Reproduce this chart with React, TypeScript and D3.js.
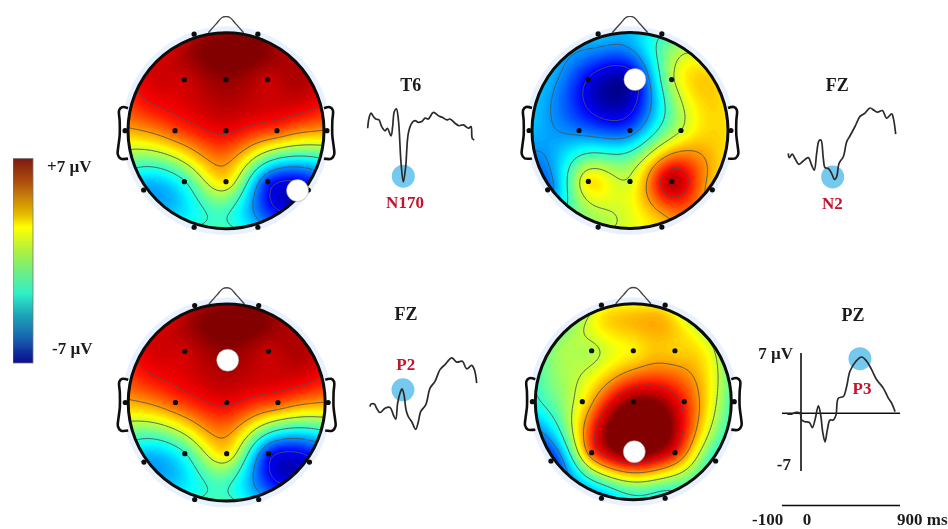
import React, { useMemo } from "react";
import * as d3 from "d3";

// 10-20 montage, head coordinates (radius 1, y down)
const sensorNames = ["Fp1", "Fp2", "F7", "F3", "Fz", "F4", "F8", "T3", "C3", "Cz", "C4", "T4", "T5", "P3", "Pz", "P4", "T6", "O1", "O2"];
const sensorX = [-0.325, 0.325, -0.84, -0.425, 0, 0.425, 0.84, -1.03, -0.52, 0, 0.52, 1.03, -0.84, -0.425, 0, 0.425, 0.84, -0.325, 0.325];
const sensorY = [-0.985, -0.985, -0.605, -0.52, -0.52, -0.52, -0.605, 0, 0, 0, 0, 0, 0.605, 0.52, 0.52, 0.52, 0.605, 0.985, 0.985];
const undrawnSensors = ["F7", "F8"];

// potentials per sensor (µV), same order as sensorNames
const n170Values = [6, 6.6, 5.5, 5.9, 6.7, 6, 6.1, 2.8, 4.2, 5.4, 4.2, 3, -2.9, -1.2, 2, -4.5, -5.6, -1.1, -2.5];
const n2Values = [-2.6, -1.2, -2.6, -5.4, -6.2, 0.7, 2, -2.6, -3.6, -3.9, 1, 2, -3.8, 2, 1.2, 6.3, 2.4, 0.6, 2.4];
const p2Values = [6, 6.6, 5.5, 5.9, 6.7, 6, 6.1, 2.8, 4.2, 5.4, 4.2, 3, -2.9, -1.2, 2, -4.7, -5.6, -1.1, -2.5];
const p3Values = [1.1, 1.4, -0.3, 0.7, 1.9, 2.4, 0.4, -1.6, 1.8, 7, 4.8, -1.1, -5, 4, 7.5, 5, -1.4, -2.8, -1.7];

const contourLevels = [-5.3, -3.2, -1.1, 1, 3.1, 5.2];
const jetStops = ["#00007f", "#0000ff", "#00ffff", "#7fff7f", "#ffff00", "#ff0000", "#7f0000"];
const jetOffsets = [0, 0.125, 0.375, 0.5, 0.625, 0.875, 1];

const barColors = ["#7e1a12", "#b05010", "#e8c000", "#ffff00", "#b0f040", "#70ee80", "#30f0c8", "#1fa8b8", "#1868b0", "#0a0a90"];
const barOffsets = [0, 0.12, 0.28, 0.335, 0.45, 0.55, 0.66, 0.76, 0.87, 1];

// ERP traces: ms and µV
const t6Times = [-100, -88, -69, -47, -25, 6, 31, 63, 84, 119, 134, 150, 169, 188, 213, 234, 256, 281, 313, 344, 375, 406, 438, 469, 516, 563, 600, 641, 672, 719, 756, 797, 844, 869, 881, 900];
const t6Volts = [0.6, 1.8, 2.4, 2, 1.7, 1.6, 0.8, 0.3, 0.6, -0.3, 0.8, 2.6, 2.9, 1.6, -3.6, -5.8, -4, 0, 1.2, 1.5, 1.3, 1.4, 1.8, 1.7, 2.5, 2.1, 1.9, 1.6, 1.7, 1.2, 0.9, 1, 0.6, 0.8, -0.6, -0.8];
const fzTopTimes = [-100, -91, -63, -38, -1, 40, 86, 117, 142, 164, 186, 204, 226, 242, 273, 304, 329, 350, 372, 412, 444, 475, 521, 568, 614, 661, 701, 732, 776, 816, 863, 878, 900];
const fzTopVolts = [-1.2, -1.7, -1.3, -1.8, -2.5, -2.1, -1.7, -2.6, -3.2, -1.2, 0.3, 0.4, -1.8, -2.9, -3, -3.6, -4.3, -4, -2.4, -1.6, 0.2, 0.9, 2, 3.2, 3.6, 4.2, 3.9, 3.7, 3.9, 3, 3.5, 3, 1.1];
const fzLowTimes = [-100, -91, -59, -38, -6, 41, 88, 119, 141, 159, 181, 200, 219, 238, 259, 291, 328, 353, 375, 422, 463, 509, 556, 603, 666, 713, 766, 806, 853, 878, 900];
const fzLowVolts = [-1.5, -1.2, -1.2, -1.7, -2.2, -1.7, -1.6, -2.5, -3, -1.1, 0.1, 0.6, -0.1, -1.9, -2.7, -3.3, -4.2, -3.3, -2.1, -1.3, 0.7, 1.5, 2.9, 3.5, 4.3, 3.8, 3.9, 3, 3.4, 2.9, 1.3];
const pzTimes = [-72, -49, -26, -5, 6, 36, 76, 103, 127, 158, 179, 197, 218, 239, 264, 294, 318, 339, 385, 415, 445, 500, 551, 597, 642, 688, 748, 794, 824, 855];
const pzVolts = [-0.1, -0.1, 0.1, 0, -0.8, -1, -1.1, -1.7, -0.8, 0.9, -0.2, -2.2, -3.4, -2, -0.8, -0.8, -0.2, 1.8, 2, 3.2, 5, 6.2, 6.7, 6.2, 5.2, 4, 3, 1.8, 1.2, 0.2];

const serif = "'Liberation Serif', 'Times New Roman', serif";
const inkColor = "#1c1c1c";
const peakRed = "#c3122a";

const jet = d3.scaleLinear<string>().domain(jetOffsets.map((t) => -7 + 14 * t)).range(jetStops).clamp(true);

// biharmonic spline through the sensors
function splineField(values: number[], n: number, extent: number) {
  const green = (r: number) => (r < 1e-6 ? 0 : r * r * (Math.log(r) - 1));
  const count = values.length;
  const mean = d3.mean(values) as number;
  const A = sensorX.map((xi, i) => {
    const row = sensorX.map((xj, j) => green(Math.hypot(xi - xj, sensorY[i] - sensorY[j])));
    row.push(values[i] - mean);
    return row;
  });
  for (let c = 0; c < count; c++) {
    let p = c;
    for (let r = c + 1; r < count; r++) if (Math.abs(A[r][c]) > Math.abs(A[p][c])) p = r;
    [A[c], A[p]] = [A[p], A[c]];
    for (let r = 0; r < count; r++) {
      if (r === c) continue;
      const f = A[r][c] / A[c][c];
      for (let k = c; k <= count; k++) A[r][k] -= f * A[c][k];
    }
  }
  const w = A.map((row, i) => row[count] / row[i]);
  const out = new Array(n * n);
  for (let j = 0; j < n; j++) {
    for (let i = 0; i < n; i++) {
      const x = -extent + (2 * extent * i) / (n - 1);
      const y = -extent + (2 * extent * j) / (n - 1);
      let z = mean;
      for (let s = 0; s < count; s++) z += w[s] * green(Math.hypot(x - sensorX[s], y - sensorY[s]));
      out[i + j * n] = Math.max(-7, Math.min(7, z));
    }
  }
  return out;
}

function TopoMap({ id, cx, cy, r, values, marker }: any) {
  const n = 150;
  const extent = 1.12;
  const x = d3.scaleLinear().domain([-1, 1]).range([cx - r, cx + r]);
  const y = d3.scaleLinear().domain([-1, 1]).range([cy - r, cy + r]);

  const { bands, lines } = useMemo(() => {
    const field = splineField(values, n, extent);
    const gx = d3.scaleLinear().domain([0.5, n - 0.5]).range([x(-extent), x(extent)]);
    const gy = d3.scaleLinear().domain([0.5, n - 0.5]).range([y(-extent), y(extent)]);
    const path = d3.geoPath(
      d3.geoTransform({
        point(a: number, b: number) {
          (this as any).stream.point(gx(a), gy(b));
        },
      })
    );
    const maker = d3.contours().size([n, n]);
    const steps = d3.range(-7, 7, 0.1);
    return {
      bands: steps.map((t) => ({ d: path(maker.contour(field, t)) as string, fill: jet(t + 0.05) })),
      lines: contourLevels.map((t) => path(maker.contour(field, t)) as string),
    };
  }, [values]);

  const curve = d3.line<number[]>().x((d) => x(d[0])).y((d) => y(d[1])).curve(d3.curveCatmullRom.alpha(0.5));
  const nose = [[-0.18, -1.0], [-0.1, -1.09], [-0.04, -1.155], [0, -1.165], [0.04, -1.155], [0.1, -1.09], [0.18, -1.0]];
  const earLeft = [[-1.0, -0.23], [-1.06, -0.24], [-1.09, -0.21], [-1.085, -0.1], [-1.085, 0.05], [-1.1, 0.17], [-1.105, 0.24], [-1.075, 0.285], [-1.0, 0.285]];
  const earRight = earLeft.map((p) => [-p[0], p[1]]);

  return (
    <g>
      <circle cx={cx} cy={cy} r={r * 1.065} fill="#e9f1fe" />
      <path d={curve(nose) as string} fill="none" stroke="#444" strokeWidth={1.4} />
      <path d={curve(earLeft) as string} fill="#fff" stroke="#111" strokeWidth={2.6} />
      <path d={curve(earRight) as string} fill="#fff" stroke="#111" strokeWidth={2.6} />
      <clipPath id={id}>
        <circle cx={cx} cy={cy} r={r} />
      </clipPath>
      <g clipPath={`url(#${id})`}>
        {bands.map((b, i) => (
          <path key={i} d={b.d} fill={b.fill} />
        ))}
        {lines.map((d, i) => (
          <path key={i} d={d} fill="none" stroke="#4d5650" strokeWidth={0.9} />
        ))}
      </g>
      <circle cx={cx} cy={cy} r={r} fill="none" stroke="#0c0c0c" strokeWidth={3} />
      {sensorNames.map((name, i) =>
        undrawnSensors.includes(name) ? null : (
          <circle key={name} cx={x(sensorX[i])} cy={y(sensorY[i])} r={2.6} fill="#0c0c0c" />
        )
      )}
      <circle cx={x(marker[0])} cy={y(marker[1])} r={11} fill="#fff" stroke="#999" strokeWidth={0.5} />
    </g>
  );
}

function Trace({ times, volts, xRange, zeroY, peak }: any) {
  const x = d3.scaleLinear().domain(xRange.length === 3 ? [-100, 0, 900] : [-100, 900]).range(xRange);
  const y = d3.scaleLinear().domain([-7, 7]).range([zeroY + 58.8, zeroY - 58.8]);
  const line = d3.line<number>().x((_, i) => x(times[i])).y((d) => y(d)).curve(d3.curveCatmullRom.alpha(0.5));
  return (
    <g>
      <circle cx={x(peak[0])} cy={y(peak[1])} r={11.5} fill="#74c9ef" />
      <path d={line(volts) as string} fill="none" stroke="#2b2b2b" strokeWidth={1.7} strokeLinejoin="round" />
    </g>
  );
}

function Label({ x, y, children, fill = inkColor, size = 18, anchor = "middle" }: any) {
  return (
    <text x={x} y={y} fill={fill} fontSize={size} fontFamily={serif} fontWeight="bold" textAnchor={anchor} dominantBaseline="central">
      {children}
    </text>
  );
}

export default function App() {
  const barY = d3.scaleLinear().domain([7, -7]).range([158.5, 363]);
  return (
    <svg width={948} height={529} style={{ position: "absolute", left: 0, top: 0, background: "#fff" }}>
      <defs>
        <linearGradient id="barFill" x1="0" y1="0" x2="0" y2="1">
          {barOffsets.map((o, i) => (
            <stop key={o} offset={o} stopColor={barColors[i]} />
          ))}
        </linearGradient>
        <filter id="soft" x="0" y="0" width="100%" height="100%">
          <feGaussianBlur stdDeviation={0.6} />
        </filter>
      </defs>
      <g filter="url(#soft)">
        <rect x={13} y={barY(7)} width={20} height={barY(-7) - barY(7)} fill="url(#barFill)" stroke="#777" strokeWidth={0.8} />
        <Label x={47} y={166.5} size={17} anchor="start">+7 µV</Label>
        <Label x={52} y={348} size={17} anchor="start">-7 µV</Label>

        <TopoMap id="head1" cx={226} cy={130.7} r={98} values={n170Values} marker={[0.73, 0.61]} />
        <TopoMap id="head2" cx={630} cy={130.5} r={98} values={n2Values} marker={[0.05, -0.52]} />
        <TopoMap id="head3" cx={226.7} cy={402.5} r={98.5} values={p2Values} marker={[0.01, -0.43]} />
        <TopoMap id="head4" cx={633.3} cy={401.7} r={98} values={p3Values} marker={[0.01, 0.51]} />

        <Trace times={t6Times} volts={t6Volts} xRange={[367.7, 474.3]} zeroY={133.3} peak={[234, -5.1]} />
        <Label x={410.7} y={85}>T6</Label>
        <Label x={405} y={202.5} fill={peakRed} size={17}>N170</Label>

        <Trace times={fzTopTimes} volts={fzTopVolts} xRange={[788.3, 895.7]} zeroY={143.3} peak={[313, -4]} />
        <Label x={837.3} y={85}>FZ</Label>
        <Label x={832.3} y={203.5} fill={peakRed} size={17}>N2</Label>

        <Trace times={fzLowTimes} volts={fzLowVolts} xRange={[370, 476.7]} zeroY={394} peak={[209, 0.5]} />
        <Label x={406} y={314}>FZ</Label>
        <Label x={405.7} y={364} fill={peakRed} size={17}>P2</Label>

        <line x1={801} x2={801} y1={353} y2={471} stroke="#111" strokeWidth={1.6} />
        <line x1={782} x2={900} y1={413.2} y2={413.2} stroke="#111" strokeWidth={1.6} />
        <Trace times={pzTimes} volts={pzVolts} xRange={[782, 801, 900]} zeroY={413.3} peak={[536, 6.5]} />
        <Label x={853} y={315}>PZ</Label>
        <Label x={862} y={388} fill={peakRed} size={17}>P3</Label>
        <Label x={793} y={353.5} size={17} anchor="end">7 µV</Label>
        <Label x={791} y={464.5} size={17} anchor="end">-7</Label>
        <line x1={782} x2={900} y1={505.5} y2={505.5} stroke="#111" strokeWidth={1.6} />
        <Label x={752} y={519.5} size={17} anchor="start">-100</Label>
        <Label x={807} y={519} size={17}>0</Label>
        <Label x={897} y={519.5} size={17} anchor="start">900 ms</Label>
      </g>
    </svg>
  );
}
